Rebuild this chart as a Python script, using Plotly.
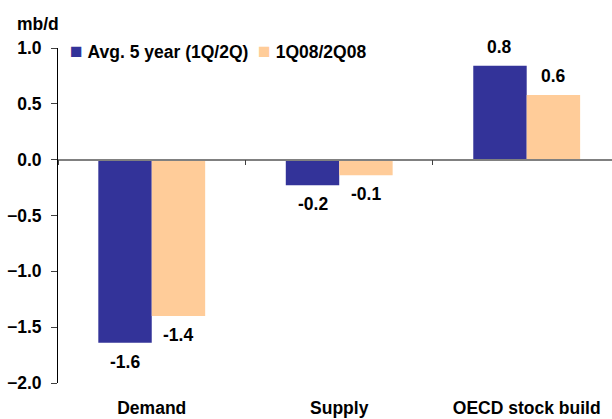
import plotly.graph_objects as go

# Change between first and second quarter, mb/d
categories = ["Demand", "Supply", "OECD stock build"]
series_names = ["Avg. 5 year (1Q/2Q)", "1Q08/2Q08"]
avg_5yr = [-1.64, -0.23, 0.84]
q1_q2_2008 = [-1.40, -0.14, 0.58]
y_ticks = [1.0, 0.5, 0.0, -0.5, -1.0, -1.5, -2.0]

colors = ["#333399", "#FFCC99"]
font_family = "Liberation Sans, Arial, sans-serif"
fsize = 17.5
bold = dict(family=font_family, size=fsize, color="black", weight="bold")
bar_gap = 0.43

fig = go.Figure()
for name, vals, col in zip(series_names, [avg_5yr, q1_q2_2008], colors):
    fig.add_trace(go.Bar(x=categories, y=vals, name=name, marker_color=col,
                         marker_line_width=0, xaxis="x", yaxis="y",
                         showlegend=False))

# invisible trace that carries the zero-line axis with boundary ticks
fig.add_trace(go.Scatter(x=categories, y=[0, 0, 0], mode="none", xaxis="x2",
                         yaxis="y", showlegend=False, hoverinfo="skip"))

# value labels above / below each bar
half = (1 - bar_gap) / 4
for s, vals in enumerate([avg_5yr, q1_q2_2008]):
    off = -half if s == 0 else half
    for i, v in enumerate(vals):
        fig.add_annotation(x=i + off, y=v, xref="x", yref="y",
                           text=f"{v:.1f}", showarrow=False,
                           yanchor="middle", yshift=19 if v > 0 else -19,
                           font=bold)

# unit label
fig.add_annotation(x=0, y=1, xref="paper", yref="paper", xanchor="right",
                   yanchor="middle", xshift=3, yshift=24, text="mb/d",
                   showarrow=False, font=bold)

# key: coloured square followed by the series name
key_parts = [f"<span style='color:{c};font-size:21px'>■</span>&nbsp;{n}"
             for n, c in zip(series_names, colors)]
fig.add_annotation(x=0, y=1, xref="paper", yref="paper", xanchor="left",
                   yanchor="middle", xshift=10, yshift=-2,
                   text="&nbsp;&nbsp;".join(key_parts),
                   showarrow=False, font=bold)

x_range = [-0.5, 2.455]
fig.update_layout(
    width=612, height=419,
    margin=dict(l=58, r=0, t=48, b=36, autoexpand=False),
    paper_bgcolor="white", plot_bgcolor="white",
    barmode="group", bargap=bar_gap, bargroupgap=0,
    font=bold,
    showlegend=False,
    xaxis=dict(type="category", range=x_range, showline=False, ticks="",
               showgrid=False, zeroline=False, ticklabelstandoff=12,
               automargin=False, tickfont=bold),
    xaxis2=dict(type="category", overlaying="x", matches="x", anchor="free",
                position=2 / 3, side="bottom", showline=True, linecolor="#808080",
                linewidth=1.5, ticks="outside", tickson="boundaries", ticklen=5,
                tickcolor="#404040", showticklabels=False, showgrid=False,
                zeroline=False, automargin=False),
    yaxis=dict(range=[-2, 1], tickvals=y_ticks, tickformat=".1f",
               showline=True, linecolor="black", linewidth=1, ticks="outside",
               ticklen=6, tickcolor="#404040", showgrid=False, zeroline=False,
               ticklabelstandoff=6, automargin=False, tickfont=bold),
)

fig.write_html("out.html")
